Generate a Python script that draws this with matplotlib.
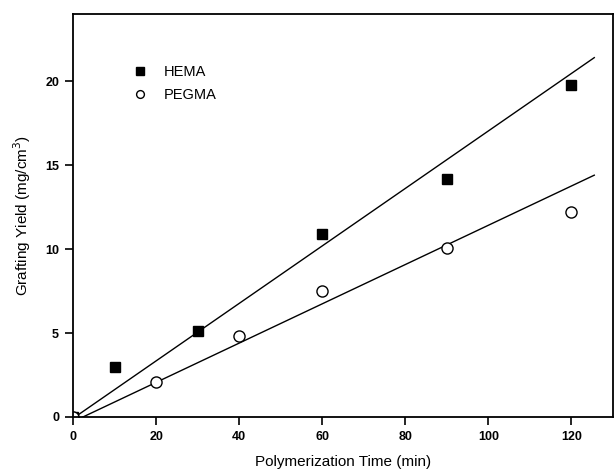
import numpy as np
import matplotlib
matplotlib.use("Agg")
import matplotlib.pyplot as plt

plt.rcParams['font.family'] = ['Liberation Sans', 'DejaVu Sans']

# data
time_hema = [0, 10, 30, 60, 90, 120]
yield_hema = [0.0, 3.0, 5.1, 10.9, 14.2, 19.8]
time_pegma = [0, 20, 40, 60, 90, 120]
yield_pegma = [0.0, 2.1, 4.85, 7.5, 10.05, 12.2]

# fitted lines (end points)
fit_x_hema = [0.5, 125.5]
fit_y_hema = [0.0, 21.4]
fit_x_pegma = [2.4, 125.5]
fit_y_pegma = [0.0, 14.4]

x_ticks = [0, 20, 40, 60, 80, 100, 120]
y_ticks = [0, 5, 10, 15, 20]


def plot_grafting_yield():
    fig = plt.figure(figsize=(6.15, 4.74), dpi=100)
    ax = fig.add_axes([0.1187, 0.1203, 0.878, 0.8502])

    ax.plot(fit_x_hema, fit_y_hema, color='black', lw=1.0)
    ax.plot(fit_x_pegma, fit_y_pegma, color='black', lw=1.0)

    ax.plot(time_hema, yield_hema, 's', color='black', ms=7.5, label='HEMA')
    ax.plot(time_pegma, yield_pegma, 'o', mfc='white', mec='black', mew=1.0, ms=8, label='PEGMA')

    ax.set_xlim(0, 130)
    ax.set_ylim(0, 24)
    ax.set_xticks(x_ticks)
    ax.set_yticks(y_ticks)
    ax.tick_params(direction='out', length=6, width=1.2, pad=4, labelsize=9, top=False, right=False)
    for lab in ax.get_xticklabels() + ax.get_yticklabels():
        lab.set_fontweight('bold')
    for s in ax.spines.values():
        s.set_linewidth(1.3)

    ax.set_xlabel("Polymerization Time (min)", fontsize=11, labelpad=9)
    ax.set_ylabel("Grafting Yield (mg/cm$^3$)", fontsize=11, labelpad=9)

    ax.legend(loc='upper left', bbox_to_anchor=(0.073, 0.905), frameon=False,
              fontsize=10.5, handletextpad=0.6, markerscale=0.7, labelspacing=0.6)

    fig.savefig("out.png", dpi=100)


if __name__ == "__main__":
    plot_grafting_yield()
